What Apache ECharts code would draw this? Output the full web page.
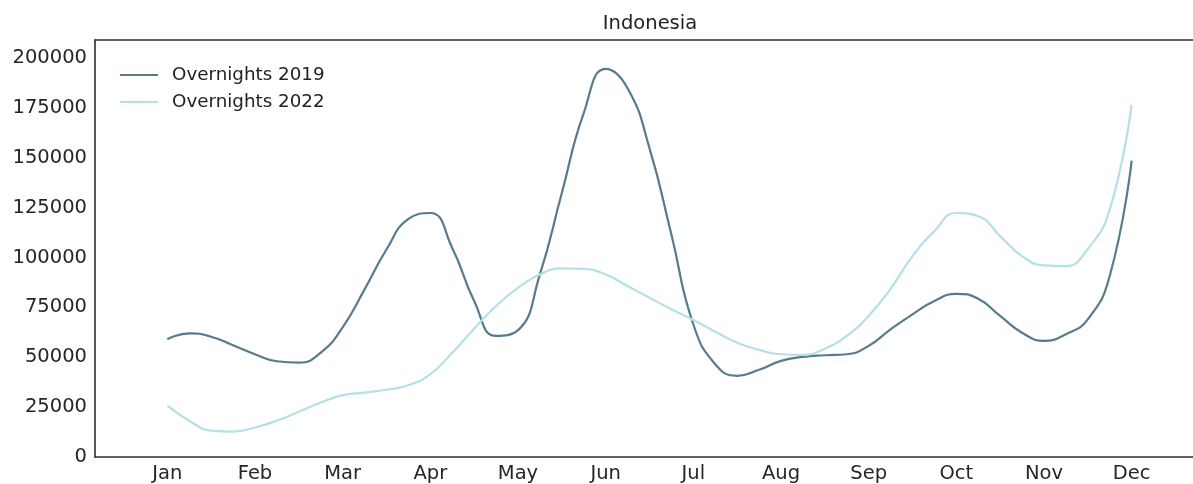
<!DOCTYPE html>
<html>
<head>
<meta charset="utf-8">
<script src="https://cdn.jsdelivr.net/npm/echarts@6/dist/echarts.min.js"></script>
<style>
html,body{margin:0;padding:0;background:#fff;}
#chart{width:1193px;height:484px;}
</style>
</head>
<body>
<div id="chart"></div>
<script>
// Month tick labels
const months = ['Jan','Feb','Mar','Apr','May','Jun','Jul','Aug','Sep','Oct','Nov','Dec'];
const readAt = [0,0.25,0.5,0.75,1,1.25,1.5,1.75,2,2.25,2.5,2.75,3,3.25,3.5,3.75,4,4.25,4.5,4.75,5,5.25,5.5,5.75,6,6.25,6.5,6.75,7,7.25,7.5,7.75,8,8.25,8.5,8.75,9,9.25,9.5,9.75,10,10.25,10.5,10.75,11];
// Overnights 2019, read at the positions above
const overnights2019 = [59000,62000,60300,56000,51500,48000,47300,52300,65000,84000,104000,119300,122300,104800,78200,60700,63500,91500,132300,172300,194500,184800,154800,111500,66500,46500,40700,43700,48200,50200,51000,51500,55700,64000,71500,78200,81800,79300,70700,62300,58200,61500,69000,90700,148500];
// Overnights 2022, read at the positions above
const overnights2022 = [25700,18200,13200,12700,14800,18200,22700,27300,31000,32300,33700,36000,41500,52300,64300,75700,84800,91500,94500,94300,91500,85700,79800,74000,68700,62800,57300,53700,51500,51200,54300,60700,70700,84300,100700,113200,122300,120700,110700,100700,96000,95700,104300,124000,176500];
// Y tick values
const yTicks = [0,25000,50000,75000,100000,125000,150000,175000,200000];

const pairs = vals => readAt.map((x, i) => [x, vals[i]]);
const font = 'DejaVu Sans';
const frame = {show: true, onZero: false, lineStyle: {color: '#2b2b2b', width: 1.6}};
const X_MIN = -0.825, X_MAX = 11.70;
const chart = echarts.init(document.getElementById('chart'));
chart.setOption({
  animation: false,
  backgroundColor: '#fff',
  title: {
    text: 'Indonesia',
    left: 645, top: 9, textAlign: 'center',
    textStyle: {fontFamily: font, fontSize: 19.5, fontWeight: 'normal', color: '#222'}
  },
  legend: {
    orient: 'vertical', left: 115, top: 60,
    icon: 'rect', itemWidth: 38, itemHeight: 2.2, itemGap: 7,
    textStyle: {fontFamily: font, fontSize: 18.3, color: '#222', lineHeight: 20, padding: [0,0,0,9]},
    data: ['Overnights 2019', 'Overnights 2022']
  },
  grid: {left: 95, top: 40, right: 0, height: 418, containLabel: false},
  xAxis: [
    {
      type: 'value', min: X_MIN, max: X_MAX, position: 'bottom',
      axisLine: frame,
      axisTick: {show: false},
      splitLine: {show: false},
      axisLabel: {
        customValues: months.map((m, i) => i),
        formatter: v => months[Math.round(v)],
        fontFamily: font, fontSize: 19.5, color: '#262626', margin: 7
      }
    },
    {
      type: 'value', min: X_MIN, max: X_MAX, position: 'top',
      axisLine: frame, axisTick: {show: false}, splitLine: {show: false}, axisLabel: {show: false}
    }
  ],
  yAxis: {
    type: 'value', min: 0, max: 209000, position: 'left',
    axisLine: frame,
    axisTick: {show: false},
    splitLine: {show: false},
    axisLabel: {
      customValues: yTicks,
      formatter: v => String(v),
      fontFamily: font, fontSize: 19.5, color: '#262626', margin: 8
    }
  },
  series: [
    {
      name: 'Overnights 2019', type: 'line', smooth: 0.5, showSymbol: false, xAxisIndex: 0,
      data: pairs(overnights2019),
      itemStyle: {color: '#587b8c'},
      lineStyle: {color: '#587b8c', width: 2.2}
    },
    {
      name: 'Overnights 2022', type: 'line', smooth: 0.5, showSymbol: false, xAxisIndex: 0,
      data: pairs(overnights2022),
      itemStyle: {color: '#b4e0e6'},
      lineStyle: {color: '#b4e0e6', width: 2.2}
    }
  ]
});
</script>
</body>
</html>
